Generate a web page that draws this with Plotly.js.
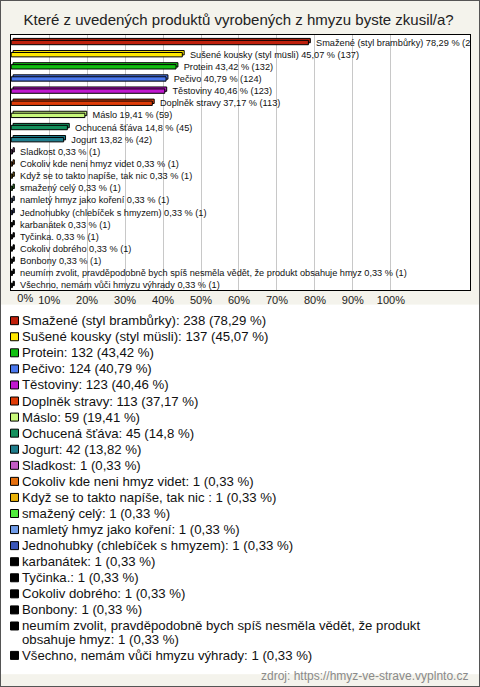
<!DOCTYPE html>
<html>
<head>
<meta charset="utf-8">
<script src="https://cdn.plot.ly/plotly-3.0.1.min.js"></script>
<style>
  html, body { margin: 0; padding: 0; background: #f4f3ec; }
  #wrap { width: 480px; height: 687px; box-sizing: border-box; border: 1px solid #555; background: #f4f3ec; }
  #chart { width: 478px; height: 685px; }
</style>
</head>
<body>
<div id="wrap"><div id="chart"></div></div>
<script>
// ---- data ----
const categories = [
  "Smažené (styl brambůrky)",
  "Sušené kousky (styl müsli)",
  "Protein",
  "Pečivo",
  "Těstoviny",
  "Doplněk stravy",
  "Máslo",
  "Ochucená šťáva",
  "Jogurt",
  "Sladkost",
  "Cokoliv kde neni hmyz videt",
  "Když se to takto napíše, tak nic ",
  "smažený celý",
  "namletý hmyz jako koření",
  "Jednohubky (chlebíček s hmyzem)",
  "karbanátek",
  "Tyčinka.",
  "Cokoliv dobrého",
  "Bonbony",
  "neumím zvolit, pravděpodobně bych spíš nesměla vědět, že produkt obsahuje hmyz",
  "Všechno, nemám vůči hmyzu výhrady"
];
const counts = [238, 137, 132, 124, 123, 113, 59, 45, 42, 1, 1, 1, 1, 1, 1, 1, 1, 1, 1, 1, 1];
const percents = [78.29, 45.07, 43.42, 40.79, 40.46, 37.17, 19.41, 14.8, 13.82,
  0.33, 0.33, 0.33, 0.33, 0.33, 0.33, 0.33, 0.33, 0.33, 0.33, 0.33, 0.33];
const colors = [
  "#c0200c", "#ffe800", "#10c010", "#4a78ee", "#c018cf", "#e03c08", "#c8f87a",
  "#13905c", "#1f7d8c", "#c25cc4", "#e6700f", "#eab208", "#50ea3c", "#6f9be8",
  "#3a56b9", "#000000", "#000000", "#000000", "#000000", "#000000", "#000000"
];
const tickVals = [0, 10, 20, 30, 40, 50, 60, 70, 80, 90, 100];
const tickLabels = ["0%", "10%", "20%", "30%", "40%", "50%", "60%", "70%", "80%", "90%", "100%"];
const titleText = "Které z uvedených produktů vyrobených z hmyzu byste zkusil/a?";
const sourceText = "zdroj: https://hmyz-ve-strave.vyplnto.cz";

// ---- helpers ----
const fmt = v => String(v).replace(".", ",");
const NB = "\u00a0";
const barLabels = categories.map((c, i) => NB.repeat(3) + c.trim() + " " + fmt(percents[i]) + " % (" + counts[i] + ")");
const legendLabels = categories.map((c, i) => c + ": " + counts[i] + " (" + fmt(percents[i]) + " %)");
// the first tick label sits right of the axis start (drawn on an overlay axis)
const mainTickText = tickLabels.map((t, i) => i === 0 ? "" : t);
const firstTickShift = 3.7; // axis units, label placement only

function wrap(text, maxChars) {
  const words = text.split(" ");
  const lines = [];
  let cur = "";
  words.forEach(w => {
    const cand = cur.length ? cur + " " + w : w;
    if (cand.length > maxChars && cur.length) { lines.push(cur); cur = w; }
    else cur = cand;
  });
  if (cur.length) lines.push(cur);
  return lines;
}

// legend rows
const W = 478, H = 685;
const legendLines = legendLabels.map(t => wrap(t, 66));
const rowPos = [];
let acc = 0;
legendLines.forEach(lines => { rowPos.push(acc); acc += 1 + (lines.length - 1) * 0.83; });

const annotations = [];
legendLines.forEach((lines, i) => {
  lines.forEach((ln, j) => {
    annotations.push({
      xref: "x2", yref: "y2", x: 19 / W, y: rowPos[i] + j * 0.83,
      text: ln, showarrow: false, xanchor: "left", yanchor: "middle",
      font: { family: "Arial, Liberation Sans, sans-serif", size: 13.2, color: "#111" }
    });
  });
});
annotations.push({
  xref: "paper", yref: "paper", x: 469 / W, y: 1 - 675 / H,
  text: sourceText, showarrow: false, xanchor: "right", yanchor: "middle",
  font: { family: "Arial, Liberation Sans, sans-serif", size: 12, color: "#8a8a8a" }
});

const traces = [
  { // back face (3D depth)
    type: "bar", orientation: "h", y: categories, x: percents, base: 0.5,
    offset: -0.22, width: 0.36,
    marker: { color: colors, line: { color: "#000", width: 1 } },
    hoverinfo: "skip", showlegend: false, xaxis: "x", yaxis: "y"
  },
  { // front face
    type: "bar", orientation: "h", y: categories, x: percents,
    offset: -0.06, width: 0.36,
    marker: { color: colors, line: { color: "#000", width: 1 } },
    text: barLabels, textposition: "outside", textangle: 0, constraintext: "none",
    cliponaxis: true,
    outsidetextfont: { family: "Arial, Liberation Sans, sans-serif", size: 9.2, color: "#111" },
    hoverinfo: "skip", showlegend: false, xaxis: "x", yaxis: "y"
  },
  { // legend squares
    type: "scatter", mode: "markers",
    x: categories.map(() => 13.5 / W), y: rowPos,
    marker: { symbol: "square", size: 8, color: colors, line: { color: "#000", width: 1 } },
    hoverinfo: "skip", showlegend: false, xaxis: "x2", yaxis: "y2", cliponaxis: false
  },
  { // empty trace so the overlay tick-label axis is drawn
    type: "scatter", mode: "markers", x: [], y: [],
    hoverinfo: "skip", showlegend: false, xaxis: "x3", yaxis: "y"
  }
];

const tickFont = { family: "Arial, Liberation Sans, sans-serif", size: 11, color: "#222" };
const xRange = [-0.05, 120.85];

const layout = {
  width: W, height: H,
  margin: { l: 0, r: 0, t: 0, b: 0 },
  paper_bgcolor: "#f4f3ec", plot_bgcolor: "#ffffff",
  showlegend: false,
  barmode: "overlay",
  title: {
    text: titleText, xref: "container", yref: "container", x: 0.497, y: 1 - 19 / H,
    xanchor: "center", yanchor: "middle",
    font: { family: "Arial, Liberation Sans, sans-serif", size: 15, color: "#222" }
  },
  xaxis: {
    domain: [10 / W, 469 / W], range: xRange,
    tickvals: tickVals, ticktext: mainTickText, ticks: "",
    showgrid: true, gridcolor: "#c8c8c8", gridwidth: 1, zeroline: false,
    showline: true, linecolor: "#000", linewidth: 1, mirror: true,
    tickfont: tickFont, fixedrange: true
  },
  xaxis3: {
    overlaying: "x", anchor: "y", side: "bottom", domain: [10 / W, 469 / W], range: xRange,
    tickvals: [tickVals[0] + firstTickShift], ticktext: [tickLabels[0]], ticks: "",
    showgrid: false, zeroline: false, showline: false, tickfont: tickFont, fixedrange: true
  },
  yaxis: {
    domain: [1 - 289 / H, 1 - 34 / H], type: "category", autorange: "reversed",
    showticklabels: false, ticks: "", showgrid: false, zeroline: false,
    showline: true, linecolor: "#000", linewidth: 1, mirror: true, fixedrange: true
  },
  xaxis2: {
    domain: [0, 1], range: [0, 1], visible: false, fixedrange: true, anchor: "y2"
  },
  yaxis2: {
    domain: [1 - 673.2 / H, 1 - 303.6 / H], range: [22, -1], visible: false, fixedrange: true, anchor: "x2"
  },
  annotations: annotations
};

Plotly.newPlot("chart", traces, layout, { displayModeBar: false, staticPlot: true });
</script>
</body>
</html>
